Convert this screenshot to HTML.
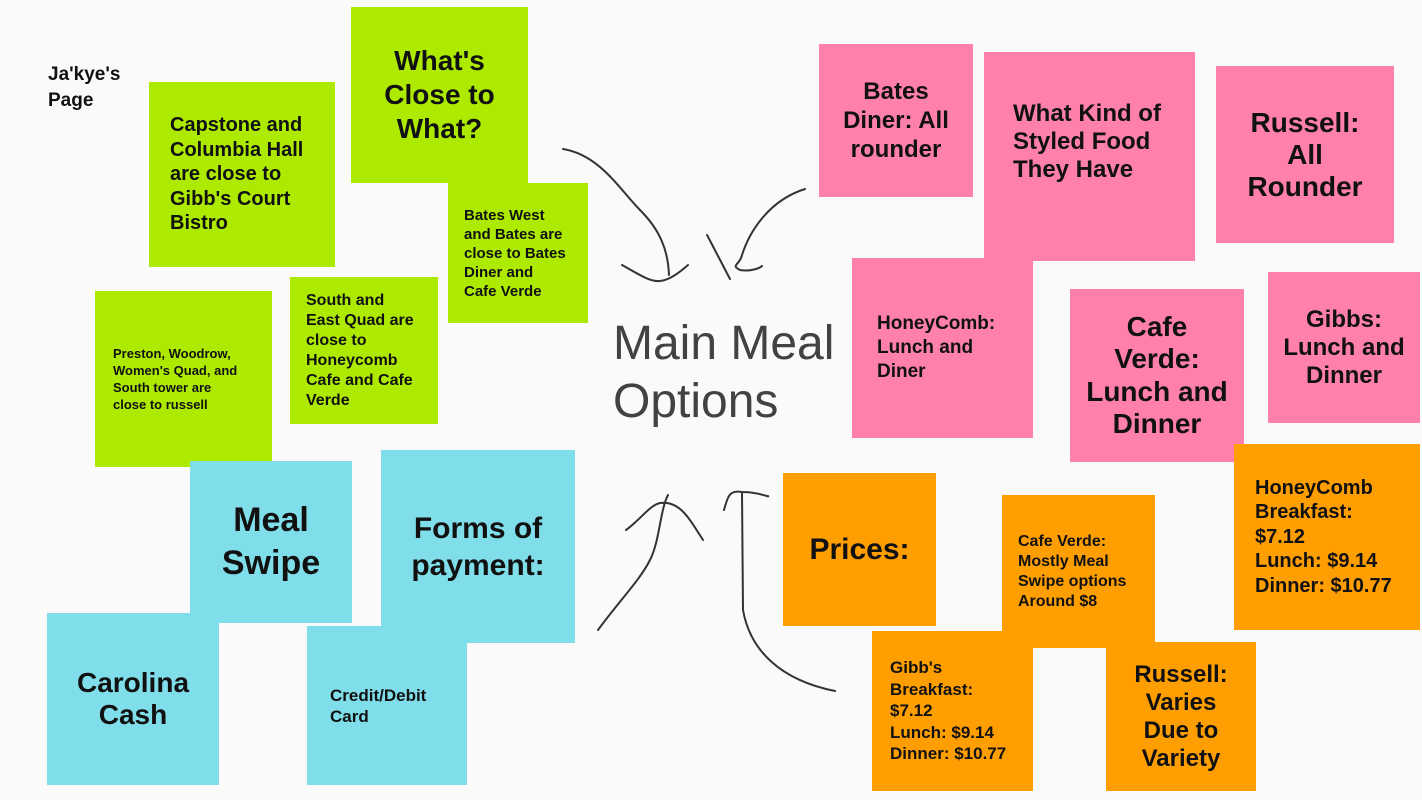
<!DOCTYPE html>
<html><head><meta charset="utf-8"><style>
body{margin:0;width:1422px;height:800px;background:#fafafa;position:relative;overflow:hidden;font-family:"Liberation Sans",sans-serif;font-weight:bold;color:#111}
.n{position:absolute;box-sizing:border-box;display:flex;flex-direction:column;justify-content:center}
.g{background:#aeea00}.p{background:#ff80ab}.b{background:#80deea}.o{background:#ff9e00}
.c{text-align:center;align-items:center}
.t{position:absolute}
</style></head><body>
<div class="t" style="left:48px;top:62px;font-size:19px;line-height:26px">Ja'kye's<br>Page</div>

<div class="n g" style="left:149px;top:82px;width:186px;height:185px;padding-left:21px;font-size:20px;line-height:24.5px">Capstone and<br>Columbia Hall<br>are close to<br>Gibb's Court<br>Bistro</div>
<div class="n g c" style="left:351px;top:7px;width:177px;height:176px;font-size:28px;line-height:34px">What's<br>Close to<br>What?</div>
<div class="n g" style="left:448px;top:183px;width:140px;height:140px;padding-left:16px;font-size:15px;line-height:19px">Bates West<br>and Bates are<br>close to Bates<br>Diner and<br>Cafe Verde</div>
<div class="n g" style="left:95px;top:291px;width:177px;height:176px;padding-left:18px;font-size:13px;line-height:17px">Preston, Woodrow,<br>Women's Quad, and<br>South tower are<br>close to russell</div>
<div class="n g" style="left:290px;top:277px;width:148px;height:147px;padding-left:16px;font-size:16px;line-height:20px">South and<br>East Quad are<br>close to<br>Honeycomb<br>Cafe and Cafe<br>Verde</div>

<div class="n p c" style="left:819px;top:44px;width:154px;height:153px;font-size:24px;line-height:29px">Bates<br>Diner: All<br>rounder</div>
<div class="n p" style="left:984px;top:52px;width:211px;height:209px;padding-left:29px;padding-bottom:30px;font-size:24px;line-height:28px">What Kind of<br>Styled Food<br>They Have</div>
<div class="n p c" style="left:1216px;top:66px;width:178px;height:177px;font-size:28px;line-height:32px">Russell:<br>All<br>Rounder</div>
<div class="n p" style="left:852px;top:258px;width:181px;height:180px;padding-left:25px;font-size:19px;line-height:24px">HoneyComb:<br>Lunch and<br>Diner</div>
<div class="n p c" style="left:1070px;top:289px;width:174px;height:173px;font-size:28px;line-height:32.5px">Cafe<br>Verde:<br>Lunch and<br>Dinner</div>
<div class="n p c" style="left:1268px;top:272px;width:152px;height:151px;font-size:24px;line-height:28px">Gibbs:<br>Lunch and<br>Dinner</div>

<div class="n b c" style="left:190px;top:461px;width:162px;height:162px;font-size:34px;line-height:43px">Meal<br>Swipe</div>
<div class="n b c" style="left:381px;top:450px;width:194px;height:193px;font-size:30px;line-height:37px">Forms of<br>payment:</div>
<div class="n b c" style="left:47px;top:613px;width:172px;height:172px;font-size:28px;line-height:32px">Carolina<br>Cash</div>
<div class="n b" style="left:307px;top:626px;width:160px;height:159px;padding-left:23px;font-size:17px;line-height:21px">Credit/Debit<br>Card</div>

<div class="n o c" style="left:783px;top:473px;width:153px;height:153px;font-size:30px">Prices:</div>
<div class="n o" style="left:1002px;top:495px;width:153px;height:153px;padding-left:16px;font-size:16px;line-height:20px">Cafe Verde:<br>Mostly Meal<br>Swipe options<br>Around $8</div>
<div class="n o" style="left:1234px;top:444px;width:186px;height:186px;padding-left:21px;font-size:20px;line-height:24.5px">HoneyComb<br>Breakfast:<br>$7.12<br>Lunch: $9.14<br>Dinner: $10.77</div>
<div class="n o" style="left:872px;top:631px;width:161px;height:160px;padding-left:18px;font-size:17px;line-height:21.5px">Gibb's<br>Breakfast:<br>$7.12<br>Lunch: $9.14<br>Dinner: $10.77</div>
<div class="n o c" style="left:1106px;top:642px;width:150px;height:149px;font-size:24px;line-height:28px">Russell:<br>Varies<br>Due to<br>Variety</div>

<div class="t" style="left:613px;top:315px;font-size:48px;line-height:58px;font-weight:normal;color:#424242">Main Meal<br>Options</div>

<svg class="t" style="left:0;top:0" width="1422" height="800" fill="none" stroke="#333" stroke-width="2" stroke-linejoin="round" stroke-linecap="round">
<path d="M563 149 C600 155,620 190,640 210 C660 230,668 250,669 275 M622 265 C640 275,650 282,660 281 C670 280,680 272,688 265"/>
<path d="M805 189 C770 200,750 230,742 255 C740 265,730 265,740 270 C750 272,760 268,762 266 M707 235 C715 250,720 260,730 279"/>
<path d="M598 630 C620 600,640 580,650 560 C660 540,660 510,668 495 M626 530 C640 520,650 505,660 503 C680 500,690 520,703 540"/>
<path d="M724 510 C728 495,730 490,742 492 C760 492,770 498,768 496 M742 492 L743 610 C750 650,780 680,835 691"/>
</svg>
</body></html>
